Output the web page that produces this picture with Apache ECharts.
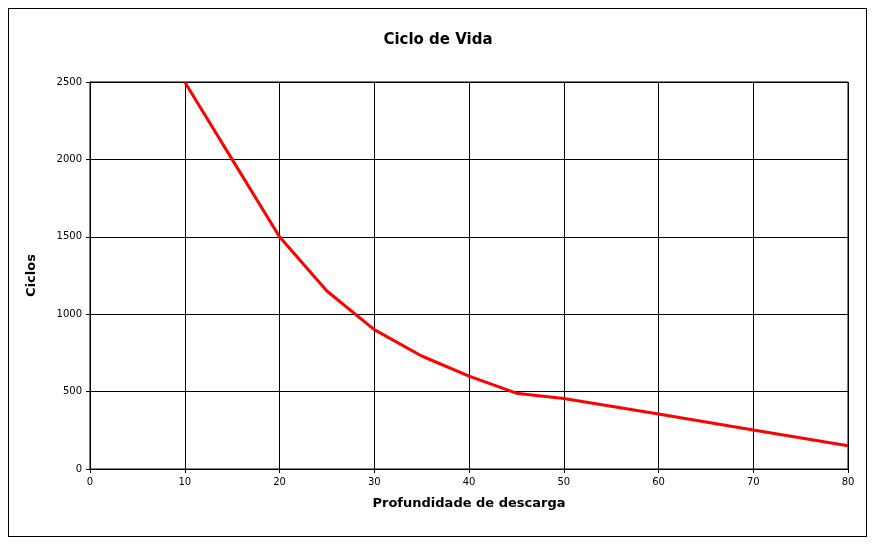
<!DOCTYPE html>
<html><head><meta charset="utf-8">
<script src="https://cdn.jsdelivr.net/npm/echarts@6/dist/echarts.min.js"></script>
<style>html,body{margin:0;padding:0;background:#fff}#c{width:876px;height:547px}
#b{position:absolute;left:8px;top:8px;width:859px;height:529px;border:1px solid #000;box-sizing:border-box;pointer-events:none}</style>
</head><body><div id="c"></div><div id="b"></div>
<script>
const depth = [10,15,20,25,30,35,40,45,50,60,70,80];
const cycles = [2500,2000,1500,1150,900,730,600,490,455,355,252,150];
const chart = echarts.init(document.getElementById('c'));
const ax = {color:'#000',fontSize:10,fontFamily:'DejaVu Sans',formatter:v=>String(v)};
chart.setOption({
  animation:false,
  title:{text:'Ciclo de Vida',left:'center',top:28,textStyle:{fontFamily:'DejaVu Sans',fontWeight:'bold',fontSize:15,color:'#000'}},
  grid:{left:90,right:28,top:82,bottom:78},
  xAxis:{type:'value',min:0,max:80,interval:10,name:'Profundidade de descarga',nameLocation:'middle',nameGap:28,
    nameTextStyle:{fontFamily:'DejaVu Sans',fontWeight:'bold',fontSize:13,color:'#000'},
    axisLine:{lineStyle:{color:'#000'}},axisTick:{show:true,length:4,lineStyle:{color:'#000'}},axisLabel:ax,
    splitLine:{show:true,lineStyle:{color:'#000',width:1}}},
  yAxis:{type:'value',min:0,max:2500,interval:500,name:'Ciclos',nameLocation:'middle',nameGap:52,
    nameTextStyle:{fontFamily:'DejaVu Sans',fontWeight:'bold',fontSize:13,color:'#000'},
    axisLine:{show:true,lineStyle:{color:'#000'}},axisTick:{show:true,length:4,lineStyle:{color:'#000'}},axisLabel:ax,
    splitLine:{show:true,lineStyle:{color:'#000',width:1}}},
  series:[{type:'line',data:depth.map((d,i)=>[d,cycles[i]]),smooth:false,showSymbol:false,
    lineStyle:{color:'#ff0000',width:3,join:'round'},itemStyle:{color:'#ff0000'}}],
  graphic:[{type:'rect',shape:{x:90,y:82,width:758,height:387},style:{fill:'none',stroke:'#000',lineWidth:1},silent:true}]
});
</script></body></html>
